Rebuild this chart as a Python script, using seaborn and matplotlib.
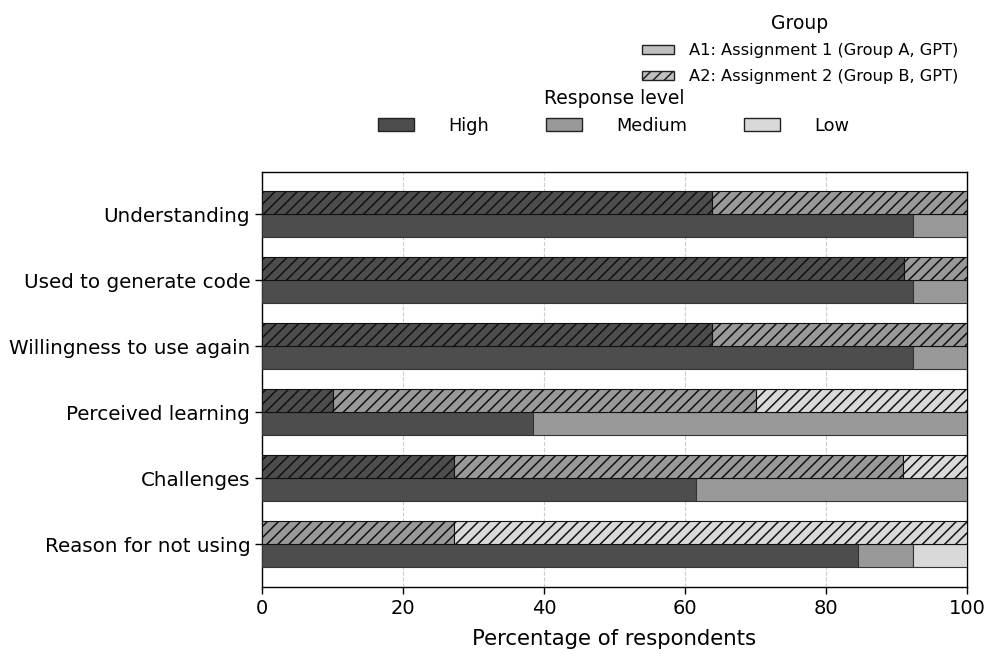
import matplotlib
matplotlib.use("Agg")
import matplotlib.pyplot as plt
from matplotlib.patches import Patch
import seaborn as sns
import numpy as np

categories = ["Understanding", "Used to generate code", "Willingness to use again",
              "Perceived learning", "Challenges", "Reason for not using"]
levels = ["High", "Medium", "Low"]
a1_high = [92.3, 92.3, 92.3, 38.5, 61.5, 84.6]
a1_med = [7.7, 7.7, 7.7, 61.5, 38.5, 7.7]
a1_low = [0.0, 0.0, 0.0, 0.0, 0.0, 7.7]
a2_high = [63.8, 91.0, 63.8, 10.0, 27.3, 0.0]
a2_med = [36.2, 9.0, 36.2, 60.0, 63.6, 27.3]
a2_low = [0.0, 0.0, 0.0, 30.0, 9.1, 72.7]
group_labels = ["A1: Assignment 1 (Group A, GPT)", "A2: Assignment 2 (Group B, GPT)"]

sns.set_style("white")
plt.rcParams['font.family'] = ['DejaVu Sans']
plt.rcParams['hatch.linewidth'] = 1.1
for k in ['text.color', 'axes.labelcolor', 'xtick.color', 'ytick.color']:
    plt.rcParams[k] = 'black'

colors = {"High": "#4d4d4d", "Medium": "#999999", "Low": "#d9d9d9"}

fig = plt.figure(figsize=(9.96, 6.54), dpi=100)
ax = fig.add_axes([262/996, 1-587/654, (967-262)/996, (587-172)/654])

y = np.arange(len(categories))
h = 0.35
a1 = {"High": a1_high, "Medium": a1_med, "Low": a1_low}
a2 = {"High": a2_high, "Medium": a2_med, "Low": a2_low}

left1 = np.zeros(len(categories))
left2 = np.zeros(len(categories))
for lv in levels:
    ax.barh(y + h/2, a1[lv], height=h, left=left1, color=colors[lv],
            edgecolor="#333333", linewidth=0.8, zorder=3)
    ax.barh(y - h/2, a2[lv], height=h, left=left2, color=colors[lv],
            edgecolor="#111111", linewidth=0.8, hatch="///", zorder=3)
    left1 += np.array(a1[lv])
    left2 += np.array(a2[lv])

ax.set_yticks(y)
ax.set_yticklabels(categories, fontsize=14.3)
ax.set_ylim(len(categories) - 1 + 0.65, -0.64)
ax.set_xlim(0, 100)
ax.set_xticks([0, 20, 40, 60, 80, 100])
ax.tick_params(axis='x', labelsize=14, length=5, width=1, bottom=True)
ax.tick_params(axis='y', length=5, width=1, left=True)
ax.set_xlabel("Percentage of respondents", fontsize=15.3, labelpad=8)
ax.xaxis.grid(True, linestyle="--", color="#cccccc", linewidth=0.8, zorder=0)
ax.yaxis.grid(False)
for s in ax.spines.values():
    s.set_color("black")
    s.set_linewidth(1)

lvl_handles = [Patch(facecolor=colors[lv], edgecolor="#222222", label=lv) for lv in levels]
leg1 = fig.legend(handles=lvl_handles, title="Response level", ncol=3,
                  loc="center", bbox_to_anchor=(614/996, 1-112/654),
                  frameon=False, fontsize=12.8, title_fontsize=13.5,
                  columnspacing=3.2, handlelength=2.0, handleheight=0.73,
                  handletextpad=1.95)

grp_handles = [Patch(facecolor="#c0c0c0", edgecolor="#222222", label=group_labels[0]),
               Patch(facecolor="#c0c0c0", edgecolor="#222222", hatch="///", label=group_labels[1])]
leg2 = fig.legend(handles=grp_handles, title="Group", loc="center",
                  bbox_to_anchor=(800/996, 1-49/654), frameon=False,
                  fontsize=11.7, title_fontsize=13.5, handlelength=2.0,
                  handleheight=0.5, labelspacing=0.65, handletextpad=0.9)

fig.savefig("out.png", dpi=100)
